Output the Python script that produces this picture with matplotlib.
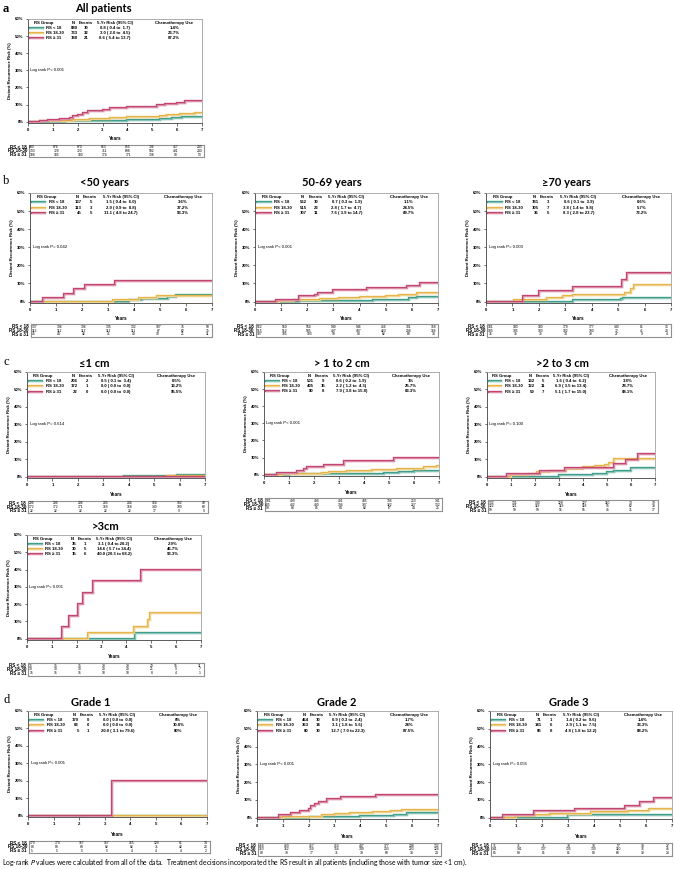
import matplotlib.pyplot as plt
import numpy as np
from matplotlib.colors import to_rgb

W, H = 675, 869

plt.rcParams['font.family'] = ['Liberation Sans', 'DejaVu Sans']

GROUPS = ['RS < 18', 'RS 18-30', 'RS \u2265 31']
COLORS = ['#3f9f8b', '#e6b54a', '#c2466e']

# ---------------- data ----------------
# a  All patients
a_n = ['880', '733', '188']
a_ev = ['10', '32', '21']
a_risk = ['0.8 ( 0.4 to  1.7)', '3.0 ( 2.0 to  4.5)', '8.6 ( 5.4 to 13.7)']
a_chemo = ['1.4%', '23.7%', '87.2%']
a_p = 'Log rank P< 0.001'
a_low_t = [1.5, 2.5, 3.2, 4.0, 4.8, 5.3, 5.8, 6.2]
a_low_y = [0.2, 0.4, 0.6, 0.8, 1.0, 1.3, 2.0, 2.5]
a_mid_t = [0.5, 1.0, 1.8, 2.5, 3.3, 4.0, 5.0, 5.3, 5.6, 6.1, 6.7]
a_mid_y = [0.3, 0.6, 1.0, 1.5, 2.0, 2.5, 3.0, 3.5, 4.0, 4.5, 5.0]
a_high_t = [0.5, 0.8, 1.3, 1.7, 1.8, 2.0, 2.2, 2.4, 3.0, 3.3, 4.0, 4.7, 5.2, 5.5, 6.0, 6.3]
a_high_y = [0.5, 1.1, 1.6, 2.2, 3.3, 3.9, 5.0, 6.1, 6.7, 7.9, 8.3, 8.6, 9.5, 10.5, 11.1, 12.0]
a_tab_low = [880, 876, 870, 863, 855, 736, 457, 243]
a_tab_mid = [733, 729, 720, 711, 698, 582, 401, 240]
a_tab_high = [188, 185, 180, 174, 171, 138, 90, 53]

# b1  <50 years
b1_n = ['137', '113', '45']
b1_ev = ['5', '3', '5']
b1_risk = ['1.5 ( 0.4 to  6.0)', '2.9 ( 0.9 to  8.8)', '11.1 ( 4.8 to 24.7)']
b1_chemo = ['3.6%', '37.2%', '93.3%']
b1_p = 'Log rank P= 0.042'
b1_low_t = [3.8, 4.3, 5.3, 5.6]
b1_low_y = [0.7, 1.5, 2.4, 3.5]
b1_mid_t = [3.2, 4.2, 4.9]
b1_mid_y = [0.9, 1.9, 2.9]
b1_high_t = [0.5, 1.3, 1.7, 2.1, 3.25]
b1_high_y = [2.2, 4.4, 6.7, 8.9, 11.1]
b1_tab_low = [137, 136, 136, 135, 132, 107, 75, 50]
b1_tab_mid = [113, 112, 112, 112, 111, 87, 62, 35]
b1_tab_high = [45, 44, 42, 41, 40, 30, 21, 11]

# b2  50-69 years
b2_n = ['562', '515', '107']
b2_ev = ['10', '22', '11']
b2_risk = ['0.7 ( 0.3 to  1.9)', '2.8 ( 1.7 to  4.7)', '7.6 ( 3.9 to 14.7)']
b2_chemo = ['1.1%', '24.5%', '89.7%']
b2_p = 'Log rank P< 0.001'
b2_low_t = [1.7, 3.0, 4.5, 5.5, 5.9, 6.2]
b2_low_y = [0.2, 0.4, 0.7, 1.1, 1.8, 2.3]
b2_mid_t = [0.9, 1.5, 2.2, 2.5, 3.2, 4.0, 5.0, 5.5, 6.2, 6.8]
b2_mid_y = [0.3, 0.6, 1.0, 1.5, 2.0, 2.5, 3.0, 3.5, 4.5, 5.0]
b2_high_t = [0.8, 1.7, 2.3, 2.4, 3.0, 4.3, 5.8, 6.3]
b2_high_y = [1.0, 2.8, 3.8, 5.0, 6.5, 7.6, 8.8, 10.5]
b2_tab_low = [562, 560, 554, 549, 546, 456, 301, 158]
b2_tab_mid = [515, 512, 505, 497, 487, 423, 298, 166]
b2_tab_high = [107, 105, 103, 99, 98, 82, 60, 38]

# b3  >=70 years
b3_n = ['181', '105', '36']
b3_ev = ['3', '7', '5']
b3_risk = ['0.6 ( 0.1 to  3.9)', '3.8 ( 1.4 to  9.8)', '8.3 ( 2.8 to 23.7)']
b3_chemo = ['0.6%', '5.7%', '72.2%']
b3_p = 'Log rank P= 0.003'
b3_low_t = [3.3, 5.1, 5.2]
b3_low_y = [0.6, 1.2, 2.2]
b3_mid_t = [1.05, 2.3, 2.9, 3.3, 5.25, 5.5, 5.6]
b3_mid_y = [1.0, 2.0, 3.0, 3.8, 5.0, 7.0, 9.0]
b3_high_t = [1.4, 2.0, 3.3, 5.15, 5.35]
b3_high_y = [2.8, 5.6, 8.3, 12.0, 16.0]
b3_tab_low = [181, 180, 180, 179, 177, 140, 81, 35]
b3_tab_mid = [105, 105, 103, 102, 100, 72, 41, 20]
b3_tab_high = [36, 36, 35, 34, 33, 27, 9, 4]

# c1  <=1 cm
c1_n = ['206', '172', '22']
c1_ev = ['2', '1', '0']
c1_risk = ['0.5 ( 0.1 to  3.4)', '0.0 ( 0.0 to  0.0)', '0.0 ( 0.0 to  0.0)']
c1_chemo = ['0.5%', '13.2%', '95.5%']
c1_p = 'Log rank P= 0.614'
c1_low_t = [3.8, 5.9]
c1_low_y = [0.5, 1.2]
c1_mid_t = [5.5]
c1_mid_y = [0.6]
c1_high_t = []
c1_high_y = []
c1_tab_low = [206, 206, 206, 205, 204, 164, 102, 48]
c1_tab_mid = [172, 172, 171, 169, 168, 140, 100, 60]
c1_tab_high = [22, 22, 22, 22, 22, 17, 9, 9]

# c2  >1 to 2 cm
c2_n = ['501', '405', '90']
c2_ev = ['9', '15', '8']
c2_risk = ['0.6 ( 0.2 to  1.9)', '2.2 ( 1.2 to  4.3)', '7.9 ( 3.8 to 15.8)']
c2_chemo = ['1%', '25.7%', '83.3%']
c2_p = 'Log rank P< 0.001'
c2_low_t = [1.0, 2.4, 3.7, 4.8, 5.4, 6.0]
c2_low_y = [0.2, 0.4, 0.6, 0.8, 1.5, 2.2]
c2_mid_t = [0.7, 1.6, 2.3, 2.6, 3.3, 4.3, 5.3, 5.6, 6.4, 6.9]
c2_mid_y = [0.3, 0.5, 1.0, 1.5, 2.0, 2.5, 3.0, 3.5, 4.5, 5.2]
c2_high_t = [0.5, 1.3, 1.6, 1.7, 2.4, 3.2, 5.2]
c2_high_y = [1.1, 2.3, 3.4, 4.6, 5.7, 7.9, 9.5]
c2_tab_low = [501, 499, 494, 491, 485, 396, 253, 141]
c2_tab_mid = [405, 402, 400, 394, 387, 322, 227, 132]
c2_tab_high = [90, 88, 85, 84, 82, 67, 44, 25]

# c3  >2 to 3 cm
c3_n = ['132', '122', '59']
c3_ev = ['5', '11', '7']
c3_risk = ['1.6 ( 0.4 to  6.2)', '6.9 ( 3.5 to 13.4)', '5.1 ( 1.7 to 15.0)']
c3_chemo = ['3.8%', '28.7%', '88.1%']
c3_p = 'Log rank P= 0.100'
c3_low_t = [3.0, 4.4, 5.0, 5.3, 6.0]
c3_low_y = [0.8, 1.6, 2.5, 3.5, 5.0]
c3_mid_t = [1.0, 1.7, 2.1, 2.6, 3.3, 4.0, 4.5, 4.9, 5.1, 5.3]
c3_mid_y = [0.9, 1.7, 2.6, 3.5, 4.4, 5.3, 6.2, 6.9, 8.0, 10.0]
c3_high_t = [0.85, 2.2, 3.25, 5.3, 5.8, 6.3]
c3_high_y = [1.7, 3.4, 5.1, 7.3, 9.6, 13.0]
c3_tab_low = [132, 131, 130, 128, 127, 110, 73, 39]
c3_tab_mid = [122, 121, 119, 119, 118, 95, 62, 38]
c3_tab_high = [59, 59, 59, 56, 55, 45, 31, 17]

# c4  >3 cm
c4_n = ['35', '30', '15']
c4_ev = ['1', '5', '6']
c4_risk = ['3.1 ( 0.4 to 20.2)', '14.6 ( 5.7 to 34.4)', '40.0 (20.3 to 68.2)']
c4_chemo = ['2.9%', '46.7%', '93.3%']
c4_p = 'Log rank P< 0.001'
c4_low_t = [4.35]
c4_low_y = [3.1]
c4_mid_t = [2.45, 4.3, 4.85, 4.95]
c4_mid_y = [3.5, 7.0, 10.5, 14.6]
c4_high_t = [1.4, 1.7, 2.05, 2.25, 2.65, 4.6]
c4_high_y = [6.7, 13.3, 20.0, 26.7, 33.3, 40.0]
c4_tab_low = [35, 35, 35, 33, 33, 29, 15, 11]
c4_tab_mid = [30, 30, 30, 29, 29, 21, 9, 7]
c4_tab_high = [15, 15, 15, 10, 10, 8, 4, 1]

# d1  Grade 1
d1_n = ['170', '83', '5']
d1_ev = ['0', '0', '1']
d1_risk = ['0.0 ( 0.0 to  0.0)', '0.0 ( 0.0 to  0.0)', '20.0 ( 3.1 to 79.6)']
d1_chemo = ['0%', '10.8%', '80%']
d1_p = 'Log rank P< 0.001'
d1_low_t = []
d1_low_y = []
d1_mid_t = []
d1_mid_y = []
d1_high_t = [3.3]
d1_high_y = [20.0]
d1_tab_low = [170, 170, 167, 167, 165, 129, 81, 34]
d1_tab_mid = [83, 83, 83, 82, 82, 71, 42, 20]
d1_tab_high = [5, 5, 5, 5, 4, 4, 4, 2]

# d2  Grade 2
d2_n = ['464', '363', '80']
d2_ev = ['10', '14', '10']
d2_risk = ['0.9 ( 0.3 to  2.4)', '3.1 ( 1.8 to  5.6)', '12.7 ( 7.0 to 22.3)']
d2_chemo = ['1.7%', '24%', '87.5%']
d2_p = 'Log rank P< 0.001'
d2_low_t = [2.0, 3.0, 4.0, 5.3, 5.8, 6.0]
d2_low_y = [0.3, 0.6, 0.9, 1.5, 2.3, 2.8]
d2_mid_t = [1.0, 2.0, 2.5, 3.0, 3.6, 4.5, 5.2, 5.6]
d2_mid_y = [0.3, 0.6, 1.2, 1.8, 2.4, 3.1, 3.8, 4.4]
d2_high_t = [0.85, 1.3, 1.65, 2.0, 2.1, 2.25, 2.4, 2.7, 3.25, 4.6]
d2_high_y = [1.3, 2.6, 3.9, 5.1, 6.4, 7.7, 9.0, 10.3, 11.5, 12.7]
d2_tab_low = [464, 460, 457, 453, 447, 377, 248, 132]
d2_tab_mid = [363, 362, 359, 354, 349, 293, 203, 124]
d2_tab_high = [80, 79, 77, 71, 70, 60, 38, 24]

# d3  Grade 3
d3_n = ['71', '141', '85']
d3_ev = ['1', '6', '8']
d3_risk = ['1.4 ( 0.2 to  9.6)', '2.9 ( 1.1 to  7.5)', '4.8 ( 1.8 to 12.2)']
d3_chemo = ['1.4%', '33.3%', '88.2%']
d3_p = 'Log rank P= 0.055'
d3_low_t = [3.0]
d3_low_y = [1.4]
d3_mid_t = [1.0, 1.7, 2.3, 3.9, 5.3, 6.1]
d3_mid_y = [0.7, 1.4, 2.1, 2.9, 3.8, 5.0]
d3_high_t = [0.5, 1.7, 3.25, 5.2, 5.75, 6.3]
d3_high_y = [1.2, 3.6, 4.8, 6.5, 8.5, 11.0]
d3_tab_low = [71, 71, 71, 70, 70, 57, 38, 27]
d3_tab_mid = [141, 141, 137, 135, 130, 110, 76, 46]
d3_tab_high = [85, 83, 81, 81, 80, 60, 38, 23]

YTICKS = [0, 10, 20, 30, 40, 50, 60]
XTICKS = [0, 1, 2, 3, 4, 5, 6, 7]

# layout in pixels: axes box (x0, y0, x1, y1), table (y0, y1, x1), years y, title (x, y)
panels = [
    ('All patients', (28, 19, 202, 123), (145, 157, 204), 139, (103, 9),
     a_n, a_ev, a_risk, a_chemo, a_p,
     [(a_low_t, a_low_y), (a_mid_t, a_mid_y), (a_high_t, a_high_y)],
     [a_tab_low, a_tab_mid, a_tab_high]),
    ('<50 years', (30, 193, 212, 303), (324, 337, 212), 318, (104, 182),
     b1_n, b1_ev, b1_risk, b1_chemo, b1_p,
     [(b1_low_t, b1_low_y), (b1_mid_t, b1_mid_y), (b1_high_t, b1_high_y)],
     [b1_tab_low, b1_tab_mid, b1_tab_high]),
    ('50-69 years', (255, 193, 438, 303), (324, 337, 438), 319, (332, 182),
     b2_n, b2_ev, b2_risk, b2_chemo, b2_p,
     [(b2_low_t, b2_low_y), (b2_mid_t, b2_mid_y), (b2_high_t, b2_high_y)],
     [b2_tab_low, b2_tab_mid, b2_tab_high]),
    ('\u226570 years', (486, 193, 671, 303), (324, 337, 671), 319, (566, 182),
     b3_n, b3_ev, b3_risk, b3_chemo, b3_p,
     [(b3_low_t, b3_low_y), (b3_mid_t, b3_mid_y), (b3_high_t, b3_high_y)],
     [b3_tab_low, b3_tab_mid, b3_tab_high]),
    ('\u22641 cm', (27, 372, 205, 478), (501, 513, 208), 494, (94, 364),
     c1_n, c1_ev, c1_risk, c1_chemo, c1_p,
     [(c1_low_t, c1_low_y), (c1_mid_t, c1_mid_y), (c1_high_t, c1_high_y)],
     [c1_tab_low, c1_tab_mid, c1_tab_high]),
    ('> 1 to 2 cm', (264, 372, 439, 476), (498, 511, 442), 492, (342, 364),
     c2_n, c2_ev, c2_risk, c2_chemo, c2_p,
     [(c2_low_t, c2_low_y), (c2_mid_t, c2_mid_y), (c2_high_t, c2_high_y)],
     [c2_tab_low, c2_tab_mid, c2_tab_high]),
    ('>2 to 3 cm', (487, 372, 655, 478), (500, 513, 658), 494, (562, 364),
     c3_n, c3_ev, c3_risk, c3_chemo, c3_p,
     [(c3_low_t, c3_low_y), (c3_mid_t, c3_mid_y), (c3_high_t, c3_high_y)],
     [c3_tab_low, c3_tab_mid, c3_tab_high]),
    ('>3cm', (27, 535, 201, 640), (663, 676, 204), 657, (106, 526),
     c4_n, c4_ev, c4_risk, c4_chemo, c4_p,
     [(c4_low_t, c4_low_y), (c4_mid_t, c4_mid_y), (c4_high_t, c4_high_y)],
     [c4_tab_low, c4_tab_mid, c4_tab_high]),
    ('Grade 1', (28, 711, 207, 817), (841, 853, 210), 834, (91, 702),
     d1_n, d1_ev, d1_risk, d1_chemo, d1_p,
     [(d1_low_t, d1_low_y), (d1_mid_t, d1_mid_y), (d1_high_t, d1_high_y)],
     [d1_tab_low, d1_tab_mid, d1_tab_high]),
    ('Grade 2', (257, 711, 438, 819), (843, 856, 441), 836, (337, 702),
     d2_n, d2_ev, d2_risk, d2_chemo, d2_p,
     [(d2_low_t, d2_low_y), (d2_mid_t, d2_mid_y), (d2_high_t, d2_high_y)],
     [d2_tab_low, d2_tab_mid, d2_tab_high]),
    ('Grade 3', (490, 711, 672, 819), (843, 856, 672), 836, (569, 702),
     d3_n, d3_ev, d3_risk, d3_chemo, d3_p,
     [(d3_low_t, d3_low_y), (d3_mid_t, d3_mid_y), (d3_high_t, d3_high_y)],
     [d3_tab_low, d3_tab_mid, d3_tab_high]),
]

FS = 3.1


def lighten(c, f=0.55):
    r, g, b = to_rgb(c)
    return (r + (1 - r) * f, g + (1 - g) * f, b + (1 - b) * f)


def px_axes(fig, x0, y0, x1, y1):
    return fig.add_axes([x0 / W, 1 - y1 / H, (x1 - x0) / W, (y1 - y0) / H])


def draw_panel(fig, p):
    (title, box, tab, years_y, title_xy, ns, evs, risks, chemos,
     pval, curves, table) = p
    ax = px_axes(fig, *box)
    for (t, y), col in zip(curves, COLORS):
        tt = [0] + list(t) + [7]
        yy = [0] + list(y) + [y[-1] if len(y) else 0]
        ax.step(tt, yy, where='post', color=col, lw=1.7, solid_joinstyle='miter')
        ax.step(tt, yy, where='post', color=lighten(col), lw=0.5)
    ax.set_xlim(0, 7)
    ax.set_ylim(-0.8, 60)
    ax.set_yticks(YTICKS)
    ax.set_yticklabels([f'{v}%' for v in YTICKS], fontsize=FS, fontweight='bold')
    ax.set_xticks(XTICKS)
    ax.set_xticklabels([str(v) for v in XTICKS], fontsize=FS, fontweight='bold')
    ax.tick_params(length=1.8, width=0.4, pad=1.5)
    for s in ax.spines.values():
        s.set_color('#a0a0a0')
        s.set_linewidth(0.6)
    ax.spines['left'].set_color('#404040')
    ax.spines['bottom'].set_color('#404040')
    ax.set_ylabel('Distant Recurrence Risk (%)', fontsize=FS, fontweight='bold', labelpad=2)

    # legend block
    tr = ax.transAxes
    hy = 0.963
    ax.text(0.09, hy, 'RS Group', transform=tr, fontsize=FS, ha='center', va='center', fontweight='bold')
    ax.text(0.26, hy, 'N', transform=tr, fontsize=FS, ha='center', va='center', fontweight='bold')
    ax.text(0.33, hy, 'Events', transform=tr, fontsize=FS, ha='center', va='center', fontweight='bold')
    ax.text(0.50, hy, '5-Yr Risk (95% CI)', transform=tr, fontsize=FS, ha='center', va='center', fontweight='bold')
    ax.text(0.84, hy, 'Chemotherapy Use', transform=tr, fontsize=FS, ha='center', va='center', fontweight='bold')
    rows_y = [0.915, 0.866, 0.815]
    for i, ry in enumerate(rows_y):
        ax.plot([0.012, 0.085], [ry, ry], transform=tr, color=COLORS[i], lw=1.7)
        ax.plot([0.012, 0.085], [ry, ry], transform=tr, color=lighten(COLORS[i]), lw=0.5)
        ax.text(0.105, ry, GROUPS[i], transform=tr, fontsize=FS, va='center', fontweight='bold')
        ax.text(0.285, ry, ns[i], transform=tr, fontsize=FS, ha='right', va='center', fontweight='bold')
        ax.text(0.335, ry, evs[i], transform=tr, fontsize=FS, ha='center', va='center', fontweight='bold')
        ax.text(0.50, ry, risks[i], transform=tr, fontsize=FS, ha='center', va='center', fontweight='bold')
        ax.text(0.84, ry, chemos[i], transform=tr, fontsize=FS, ha='center', va='center', fontweight='bold')
    ax.text(0.1, 30, pval, fontsize=FS, va='center')

    x0, y0, x1, y1 = box
    fig.text((x0 + x1) / 2 / W, 1 - years_y / H, 'Years', fontsize=FS + 0.3,
             ha='center', va='center', fontweight='bold')
    fig.text(title_xy[0] / W, 1 - title_xy[1] / H, title, fontsize=8,
             ha='center', va='center', fontweight='bold', family=['Lato', 'DejaVu Sans'])

    # number at risk table
    t0, t1, tx1 = tab
    tx0 = x0 + 1
    tax = px_axes(fig, tx0, t0, tx1, t1)
    tax.set_xlim(0, 1)
    tax.set_ylim(0, 1)
    tax.set_xticks([])
    tax.set_yticks([])
    for s in tax.spines.values():
        s.set_color('#909090')
        s.set_linewidth(0.8)
    ty = [0.8, 0.5, 0.2]
    for r, (vals, yy) in enumerate(zip(table, ty)):
        for k, v in enumerate(vals):
            tax.text(0.018 + k * 0.137, yy, str(v), fontsize=2.4, ha='center', va='center')
        fig.text((tx0 - 2) / W, 1 - (t0 + (1 - yy) * (t1 - t0)) / H, GROUPS[r],
                 fontsize=FS + 0.2, ha='right', va='center', fontweight='bold')


fig = plt.figure(figsize=(W / 100, H / 100), dpi=100)
for p in panels:
    draw_panel(fig, p)

fig.text(3 / W, 1 - 9 / H, 'a', fontsize=9, fontweight='bold', va='center', family='Liberation Serif')
for lab, yy in [('b', 181), ('c', 362), ('d', 700)]:
    fig.text(3 / W, 1 - yy / H, lab, fontsize=9, va='center', family='Liberation Serif')

fig.text(2 / W, 1 - 862 / H,
         'Log-rank $\\it{P}$ values were calculated from all of the data.  Treatment decisions incorporated '
         'the RS result in all patients (including those with tumor size <1 cm).',
         fontsize=4.9, va='center', family=['Lato', 'DejaVu Sans'])

fig.savefig('out.png', dpi=100)
